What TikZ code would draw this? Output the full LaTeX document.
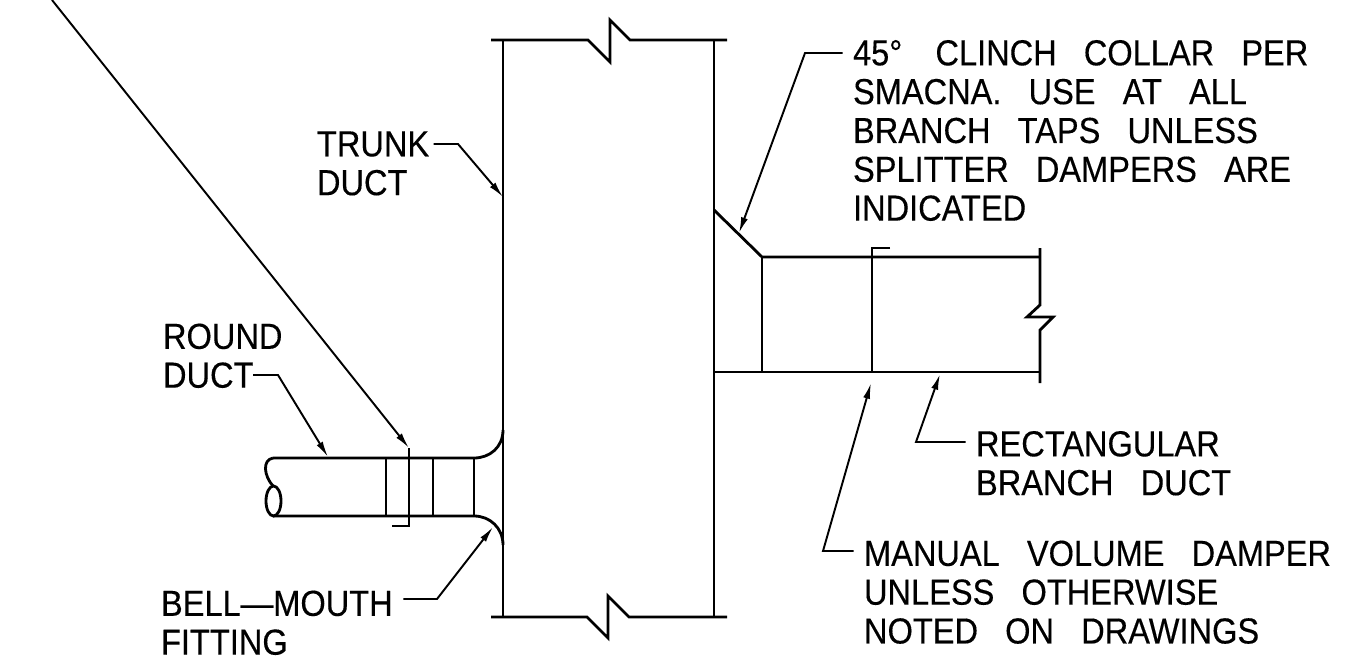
\documentclass[tikz,border=0pt]{standalone}
\usepackage{fontspec}
\usetikzlibrary{arrows.meta}
\newfontfamily\cadfont[FakeStretch=0.9, FakeBold=0.3]{Liberation Sans}
\newcommand{\ductfont}{\fontsize{20.6}{22.1}\cadfont\selectfont\spaceskip=0.75em\relax}
\tikzset{
  duct/.style={line width=1.6pt, line join=miter, black},
  leader/.style={line width=1.1pt, black, -{Latex[length=9pt,width=4pt]}},
  note/.style={font=\ductfont, align=left, anchor=north west, inner sep=0pt, outer sep=6pt}
}
\begin{document}
\begin{tikzpicture}[x=0.02cm, y=-0.02cm]
\useasboundingbox (0, 0) rectangle (1351, 669);

\draw [duct] (491, 40) -- (588, 40) -- (610, 62) -- (610, 20) -- (630, 40) -- (727, 40);
\draw [duct] (491, 617) -- (587, 617) -- (608, 638) -- (608, 596) -- (629, 617) -- (727, 617);
\draw [duct] (503, 40) -- (503, 617);
\draw [duct] (714, 40) -- (714, 617);

\draw [duct] (714, 210) -- (762, 257) -- (1040, 257);
\draw [duct] (714, 372) -- (1040, 372);
\draw [duct] (762, 257) -- (762, 372);
\draw [duct] (890, 248) -- (872, 248) -- (872, 372);
\draw [duct] (1040, 248) -- (1040, 305) -- (1027, 317) -- (1053, 317) -- (1040, 330) -- (1040, 383);

\draw [duct] (503, 430) .. controls (503, 447) and (490, 458) .. (474, 458) -- (273, 458);
\draw [duct] (503, 545) .. controls (503, 528) and (490, 516) .. (474, 516) -- (273, 516);
\draw [duct] (273, 458) .. controls (262, 460) and (264, 476) .. (273, 486);
\draw [duct] (273.5, 501) ellipse [x radius=7.5, y radius=15];
\draw [duct] (386, 458) -- (386, 516);
\draw [duct] (433, 458) -- (433, 516);
\draw [duct] (474, 458) -- (474, 516);
\draw [duct] (409, 448) -- (409, 526) -- (392, 526);

\node [note, outer sep=2.5pt] (trunk) at (312.6, 127) {TRUNK\\DUCT};
\node [note] (round) at (152.5, 313) {ROUND\\DUCT};
\node [note] (bell) at (150.5, 580) {BELL—MOUTH\\FITTING};
\node [note] (collar) at (842.5, 29.5) {45°\, CLINCH COLLAR PER\\SMACNA. USE AT ALL\\BRANCH TAPS UNLESS\\SPLITTER DAMPERS ARE\\INDICATED};
\node [note] (branch) at (965.5, 420.5) {RECTANGULAR\\BRANCH DUCT};
\node [note] (damper) at (853.5, 530) {MANUAL VOLUME DAMPER\\UNLESS OTHERWISE\\NOTED ON DRAWINGS};

\coordinate (trunkknee) at (458, 144);
\coordinate (trunktip) at (503, 197);
\coordinate (rounddash) at (253, 375);
\coordinate (roundknee) at (278, 375);
\coordinate (roundtip) at (328, 457);
\coordinate (bellknee) at (437, 599);
\coordinate (belltip) at (493, 527);
\coordinate (collarknee) at (805, 53);
\coordinate (collartip) at (739, 233);
\coordinate (branchknee) at (916, 442);
\coordinate (branchtip) at (940, 374);
\coordinate (damperknee) at (823, 551);
\coordinate (dampertip) at (871, 383);
\coordinate (longstart) at (52, 0);
\coordinate (longtip) at (409, 448);

\draw [leader] (trunk.east |- trunkknee) -- (trunkknee) -- (trunktip);
\draw [leader] (rounddash) -- (roundknee) -- (roundtip);
\draw [leader] (bell.east |- bellknee) -- (bellknee) -- (belltip);
\draw [leader] (collar.west |- collarknee) -- (collarknee) -- (collartip);
\draw [leader] (branch.west |- branchknee) -- (branchknee) -- (branchtip);
\draw [leader] (damper.west |- damperknee) -- (damperknee) -- (dampertip);
\draw [leader] (longstart) -- (longtip);
\end{tikzpicture}
\end{document}
